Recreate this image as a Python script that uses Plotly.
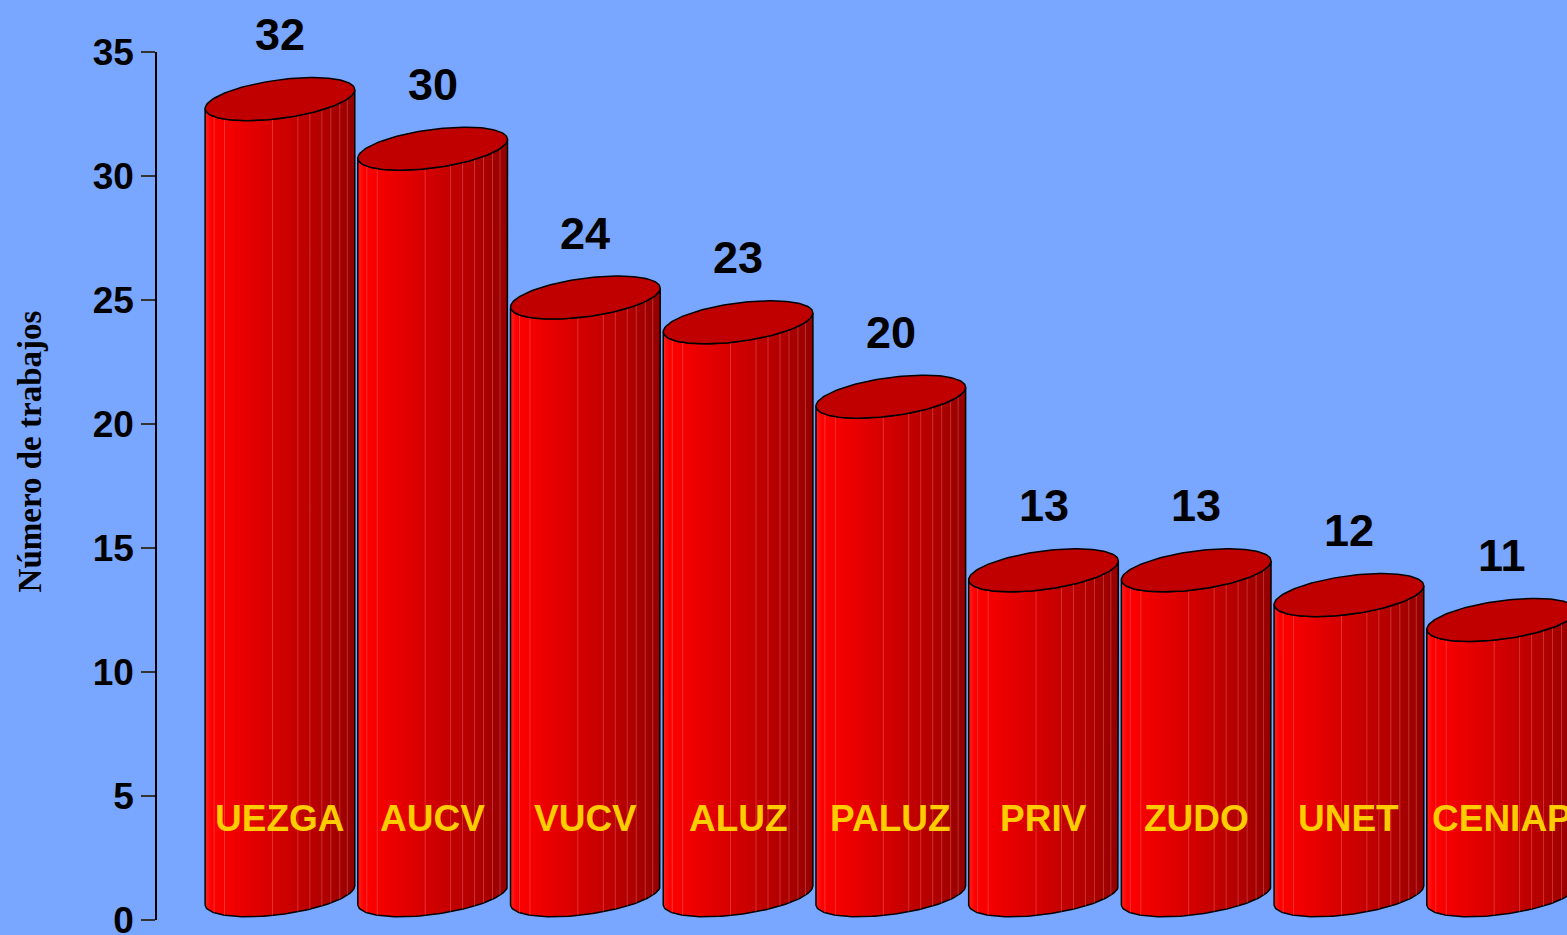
import numpy as np
import plotly.graph_objects as go

categories = ["UEZGA", "AUCV", "VUCV", "ALUZ", "PALUZ", "PRIV", "ZUDO", "UNET", "CENIAP"]
values = [32, 30, 24, 23, 20, 13, 13, 12, 11]
y_ticks = [0, 5, 10, 15, 20, 25, 30, 35]
y_title = "Número de trabajos"

Y_MAX = 35
# cylinder geometry (in axis units)
A = 0.49      # half width (x units)
B = 0.78      # ellipse vertical semi-axis (y units)
S = 0.38      # tilt of the ellipse (y units)
BASE = 1.0    # centre of the bottom ellipse
TOP_OFF = 1.1  # centre of top ellipse above value
LABEL_OFF = 3.7
CAT_LABEL_Y = 4.1

BG = "#79A6FF"
body_scale = [[0, "#FF2020"], [0.04, "#FF0000"], [0.45, "#D60000"], [0.8, "#B00000"], [1, "#930000"]]

fig = go.Figure()

tf = np.linspace(np.pi, 2 * np.pi, 80)
ta = np.linspace(0, 2 * np.pi, 160)

for i, (c, v) in enumerate(zip(categories, values)):
    cx = i
    cyt = v + TOP_OFF
    cyb = BASE
    top_x = cx + A * np.cos(tf)
    top_y = cyt + B * np.sin(tf) + S * np.cos(tf)
    bot_x = cx + A * np.cos(tf)
    bot_y = cyb + B * np.sin(tf) + S * np.cos(tf)
    xs = list(top_x) + list(bot_x[::-1]) + [top_x[0]]
    ys = list(top_y) + list(bot_y[::-1]) + [top_y[0]]
    fig.add_trace(go.Scatter(
        x=xs, y=ys, mode="lines", fill="toself",
        fillgradient=dict(type="horizontal", colorscale=body_scale),
        line=dict(color="black", width=1.5), hoverinfo="skip", showlegend=False,
    ))
    # faint vertical stripes
    for f in [0.06, 0.13, 0.45, 0.62, 0.7, 0.78, 0.84, 0.9, 0.95]:
        tt = np.arccos(1 - 2 * f) + np.pi
        px = cx + A * np.cos(tt)
        y_top = cyt + B * np.sin(tt) + S * np.cos(tt)
        y_bot = cyb + B * np.sin(tt) + S * np.cos(tt)
        fig.add_trace(go.Scatter(
            x=[px, px], y=[y_bot, y_top], mode="lines",
            line=dict(color="rgba(255,140,140,0.35)", width=1),
            hoverinfo="skip", showlegend=False,
        ))
    ex = cx + A * np.cos(ta)
    ey = cyt + B * np.sin(ta) + S * np.cos(ta)
    fig.add_trace(go.Scatter(
        x=ex, y=ey, mode="lines", fill="toself", fillcolor="#C00000",
        line=dict(color="black", width=1.5), hoverinfo="skip", showlegend=False,
    ))

annotations = []
# value labels above the cylinders (y in paper fraction so labels above the range still show)
for i, v in enumerate(values):
    annotations.append(dict(
        x=i, y=(v + LABEL_OFF) / Y_MAX, xref="x", yref="paper", text=str(v), showarrow=False,
        xanchor="center", yanchor="middle",
        font=dict(family="Liberation Sans, Arial", size=45, color="black", weight="bold"),
    ))
# category labels inside the cylinders
for i, c in enumerate(categories):
    annotations.append(dict(
        x=i, y=CAT_LABEL_Y, xref="x", yref="y", text=c, showarrow=False,
        xanchor="center", yanchor="middle",
        font=dict(family="Liberation Sans, Arial", size=37, color="#FFCC00", weight="bold"),
    ))
# y-axis title
annotations.append(dict(
    x=-0.09, y=0.54, xref="paper", yref="paper", text=y_title, showarrow=False,
    textangle=-90, xanchor="center", yanchor="middle",
    font=dict(family="Liberation Serif, Times New Roman", size=33, color="black", weight="bold"),
))

fig.update_layout(
    width=1567, height=935,
    margin=dict(l=157, r=0, t=52, b=15, autoexpand=False),
    paper_bgcolor=BG, plot_bgcolor=BG,
    annotations=annotations,
    xaxis=dict(range=[-0.805, 8.428], visible=False, showgrid=False, zeroline=False, automargin=False),
    yaxis=dict(
        range=[0, Y_MAX], tickvals=y_ticks, ticktext=[str(t) for t in y_ticks],
        automargin=False,
        showgrid=False, zeroline=False, showline=True, linecolor="black", linewidth=1.5,
        ticks="outside", ticklen=14, tickcolor="#333333", tickwidth=1.5,
        ticklabeloverflow="allow",
        tickfont=dict(family="Liberation Sans, Arial", size=37, color="black", weight="bold"),
    ),
)

fig.write_html("out.html", config={"displayModeBar": False},
               post_script="document.body.style.margin='0';document.body.style.overflow='hidden';")
